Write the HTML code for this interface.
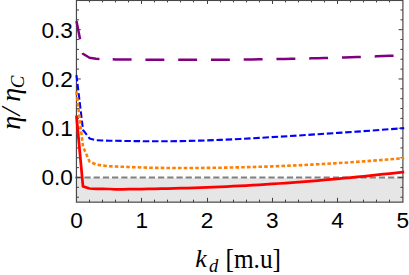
<!DOCTYPE html>
<html><head><meta charset="utf-8"><title>plot</title>
<style>
html,body{margin:0;padding:0;background:#fff;}
body{width:409px;height:275px;overflow:hidden;font-family:"Liberation Sans",sans-serif;}
svg{display:block;}
</style></head><body>
<svg width="409" height="275" viewBox="0 0 409 275">
<rect x="0" y="0" width="409" height="275" fill="#fff"/>
<rect x="76.45" y="178.10" width="326.45" height="24.05" fill="#e6e6e6"/>
<path d="M75.25 177.5 H403.90" stroke="#808080" stroke-width="2.0" fill="none" stroke-dasharray="6.2 3.0"/>
<path d="M89.50 202.15 v-2.5 M89.50 0.45 v2.0 M102.50 202.15 v-2.5 M102.50 0.45 v2.0 M115.50 202.15 v-2.5 M115.50 0.45 v2.0 M128.50 202.15 v-2.5 M128.50 0.45 v2.0 M141.50 202.15 v-4.3 M141.50 0.45 v3.5 M154.50 202.15 v-2.5 M154.50 0.45 v2.0 M167.50 202.15 v-2.5 M167.50 0.45 v2.0 M180.50 202.15 v-2.5 M180.50 0.45 v2.0 M193.50 202.15 v-2.5 M193.50 0.45 v2.0 M207.50 202.15 v-4.3 M207.50 0.45 v3.5 M220.50 202.15 v-2.5 M220.50 0.45 v2.0 M233.50 202.15 v-2.5 M233.50 0.45 v2.0 M246.50 202.15 v-2.5 M246.50 0.45 v2.0 M259.50 202.15 v-2.5 M259.50 0.45 v2.0 M272.50 202.15 v-4.3 M272.50 0.45 v3.5 M285.50 202.15 v-2.5 M285.50 0.45 v2.0 M298.50 202.15 v-2.5 M298.50 0.45 v2.0 M311.50 202.15 v-2.5 M311.50 0.45 v2.0 M324.50 202.15 v-2.5 M324.50 0.45 v2.0 M337.50 202.15 v-4.3 M337.50 0.45 v3.5 M350.50 202.15 v-2.5 M350.50 0.45 v2.0 M363.50 202.15 v-2.5 M363.50 0.45 v2.0 M376.50 202.15 v-2.5 M376.50 0.45 v2.0 M389.50 202.15 v-2.5 M389.50 0.45 v2.0 M76.45 197.21 h2.5 M402.9 197.21 h-2.5 M76.45 187.35 h2.5 M402.9 187.35 h-2.5 M76.45 177.50 h4.3 M402.9 177.50 h-4.3 M76.45 167.65 h2.5 M402.9 167.65 h-2.5 M76.45 157.79 h2.5 M402.9 157.79 h-2.5 M76.45 147.94 h2.5 M402.9 147.94 h-2.5 M76.45 138.08 h2.5 M402.9 138.08 h-2.5 M76.45 128.23 h4.3 M402.9 128.23 h-4.3 M76.45 118.38 h2.5 M402.9 118.38 h-2.5 M76.45 108.52 h2.5 M402.9 108.52 h-2.5 M76.45 98.67 h2.5 M402.9 98.67 h-2.5 M76.45 88.81 h2.5 M402.9 88.81 h-2.5 M76.45 78.96 h4.3 M402.9 78.96 h-4.3 M76.45 69.11 h2.5 M402.9 69.11 h-2.5 M76.45 59.25 h2.5 M402.9 59.25 h-2.5 M76.45 49.40 h2.5 M402.9 49.40 h-2.5 M76.45 39.54 h2.5 M402.9 39.54 h-2.5 M76.45 29.69 h4.3 M402.9 29.69 h-4.3 M76.45 19.84 h2.5 M402.9 19.84 h-2.5 M76.45 9.98 h2.5 M402.9 9.98 h-2.5" stroke="#3c3c3c" stroke-width="1.0" fill="none"/>
<rect x="76.45" y="0.45" width="326.45" height="201.70" fill="none" stroke="#484848" stroke-width="1.2"/>
<path d="M76.45 21.00 L80.06 39.14 M82.84 53.12 L82.98 53.80 L89.51 57.80 L96.04 58.80 L99.48 58.91 M112.70 59.32 L115.62 59.50 L122.15 59.55 L128.68 59.59 L131.59 59.61 M145.45 59.68 L148.27 59.70 L154.80 59.72 L161.33 59.75 L164.35 59.76 M178.20 59.79 L180.91 59.79 L187.44 59.80 L193.97 59.80 L197.10 59.80 M210.95 59.77 L213.56 59.76 L220.09 59.73 L226.62 59.69 L229.85 59.67 M243.70 59.54 L246.20 59.52 L252.73 59.44 L259.26 59.36 L262.60 59.31 M276.45 59.10 L278.85 59.06 L285.38 58.94 L291.91 58.81 L295.35 58.74 M309.20 58.43 L311.49 58.37 L318.02 58.21 L324.55 58.04 L328.09 57.94 M341.95 57.54 L344.14 57.47 L350.67 57.27 L357.20 57.05 L360.84 56.92 M374.70 56.43 L376.78 56.35 L383.31 56.10 L389.84 55.84 L393.59 55.69" stroke="#800080" stroke-width="2.5" fill="none" stroke-linejoin="round"/>
<path d="M76.45 75.10 L82.98 129.80 L89.51 138.40 L96.04 140.20 L102.57 140.50 L109.09 140.70 L128.68 141.00 L141.74 141.20 L161.33 141.30 L180.91 141.10 L200.50 140.60 L220.09 139.90 L239.68 139.00 L259.26 137.90 L278.85 136.70 L298.44 135.50 L318.02 134.20 L337.61 132.90 L357.20 131.60 L380.05 129.95 L402.90 128.20 L404.20 128.10" stroke="#0000ff" stroke-width="2.1" fill="none" stroke-dasharray="6.5 2.71" stroke-dashoffset="0.3" stroke-linecap="butt" stroke-linejoin="round"/>
<path d="M76.45 91.50 L82.98 146.50 L89.51 161.50 L96.04 164.50 L102.57 165.60 L109.09 166.20 L115.62 166.50 L128.68 167.00 L141.74 167.45 L154.80 167.86 L161.33 167.92 L167.86 167.97 L174.38 168.00 L180.91 168.01 L187.44 168.00 L193.97 167.97 L200.50 167.93 L207.03 167.88 L213.56 167.80 L220.09 167.71 L226.62 167.60 L233.15 167.47 L239.68 167.33 L246.20 167.17 L252.73 166.99 L259.26 166.80 L265.79 166.58 L272.32 166.35 L278.85 166.11 L285.38 165.85 L291.91 165.57 L298.44 165.27 L304.97 164.96 L311.49 164.62 L318.02 164.28 L324.55 163.91 L331.08 163.53 L337.61 163.13 L344.14 162.71 L350.67 162.28 L357.20 161.83 L363.73 161.36 L370.25 160.88 L376.78 160.38 L383.31 159.86 L389.84 159.32 L396.37 158.77 L402.90 158.20 L404.20 158.09" stroke="#ff8000" stroke-width="2.6" fill="none" stroke-dasharray="3.6 2.15" stroke-dashoffset="0" stroke-linejoin="round"/>
<path d="M76.45 115.50 L82.98 186.40 L89.51 188.50 L96.04 188.80 L102.57 188.90 L109.09 189.00 L115.62 189.29 L122.15 189.26 L128.68 189.21 L135.21 189.15 L141.74 189.07 L148.27 188.98 L154.80 188.86 L161.33 188.73 L167.86 188.59 L174.38 188.42 L180.91 188.24 L187.44 188.05 L193.97 187.83 L200.50 187.60 L207.03 187.35 L213.56 187.09 L220.09 186.80 L226.62 186.51 L233.15 186.19 L239.68 185.86 L246.20 185.51 L252.73 185.14 L259.26 184.76 L265.79 184.35 L272.32 183.94 L278.85 183.50 L285.38 183.05 L291.91 182.58 L298.44 182.10 L304.97 181.59 L311.49 181.07 L318.02 180.54 L324.55 179.99 L331.08 179.42 L337.61 178.83 L344.14 178.22 L350.67 177.60 L357.20 176.96 L363.73 176.31 L370.25 175.64 L376.78 174.95 L383.31 174.24 L389.84 173.52 L396.37 172.78 L402.90 172.02 L404.20 171.87" stroke="#ff0000" stroke-width="2.75" fill="none" stroke-linejoin="round"/>
<g font-family="'Liberation Sans', sans-serif" font-size="22.6" fill="#000">
<text x="72.9" y="37.54" text-anchor="end">0.3</text>
<text x="72.9" y="86.81" text-anchor="end">0.2</text>
<text x="72.9" y="136.08" text-anchor="end">0.1</text>
<text x="72.9" y="185.35" text-anchor="end">0.0</text>
<text x="76.45" y="227.6" text-anchor="middle">0</text>
<text x="141.74" y="227.6" text-anchor="middle">1</text>
<text x="207.03" y="227.6" text-anchor="middle">2</text>
<text x="272.32" y="227.6" text-anchor="middle">3</text>
<text x="337.61" y="227.6" text-anchor="middle">4</text>
<text x="402.9" y="227.6" text-anchor="middle">5</text>
</g>
<g font-family="'Liberation Serif', serif" fill="#000">
<text x="195.3" y="267.1" font-size="26" font-style="italic">k</text>
<text x="209" y="271.6" font-size="18.5" font-style="italic">d</text>
<text x="225.5" y="267.7" font-size="26.5" textLength="55.5" lengthAdjust="spacingAndGlyphs">[m.u]</text>
</g>
<g transform="translate(20.45 0) rotate(-90)" font-family="'Liberation Serif', serif" font-style="italic" fill="#000">
<text x="-129.7" y="0" font-size="28">η</text>
<text x="-115.5" y="0" font-size="28">/</text>
<text x="-101.7" y="0" font-size="28">η</text>
<text x="-88.2" y="3.9" font-size="19">C</text>
</g>
</svg></body></html>
